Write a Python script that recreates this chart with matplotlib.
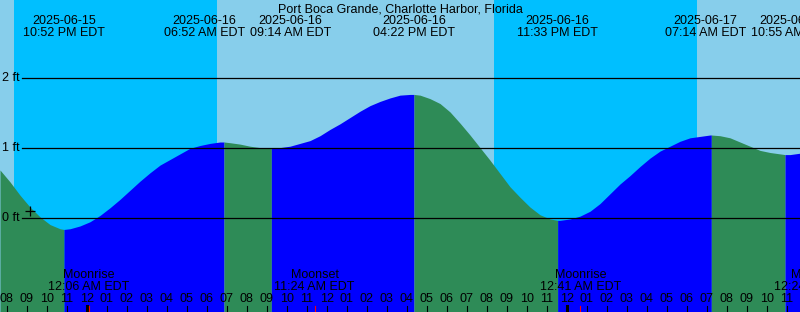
import matplotlib.pyplot as plt
import numpy as np
import pandas as pd

plt.rcParams['font.family'] = ['Liberation Sans', 'DejaVu Sans']

station = 'Port Boca Grande, Charlotte Harbor, Florida'

# hauteur de la marée (ft), relevée toutes les 30 min à partir de 19:40
sample_start = '2025-06-15 19:40'
sample_heights = [0.69, 0.52, 0.33, 0.16, 0.02, -0.09, -0.15, -0.15, -0.11, -0.05,
                  0.04, 0.15, 0.27, 0.40, 0.53, 0.65, 0.76, 0.84, 0.92, 1.00,
                  1.04, 1.07, 1.09, 1.08, 1.06, 1.03, 1.01, 1.00, 1.01, 1.03,
                  1.07, 1.11, 1.18, 1.27, 1.35, 1.44, 1.53, 1.61, 1.67, 1.72,
                  1.76, 1.77, 1.76, 1.71, 1.64, 1.52, 1.36, 1.19, 1.01, 0.83,
                  0.64, 0.45, 0.30, 0.16, 0.05, -0.01, -0.03, -0.01, 0.03, 0.10,
                  0.21, 0.35, 0.49, 0.61, 0.74, 0.86, 0.96, 1.03, 1.10, 1.15,
                  1.17, 1.19, 1.18, 1.15, 1.09, 1.03, 0.97, 0.94, 0.92, 0.91,
                  0.93]

# pleines et basses mers
event_times = ['2025-06-15 22:52', '2025-06-16 06:52', '2025-06-16 09:14',
               '2025-06-16 16:22', '2025-06-16 23:33', '2025-06-17 07:14',
               '2025-06-17 10:55']
event_heights = [-0.16, 1.09, 1.00, 1.77, -0.03, 1.19, 0.91]

# soleil
sunsets = ['2025-06-15 20:22', '2025-06-16 20:22']
sunrises = ['2025-06-16 06:31', '2025-06-17 06:31']

# lune
moon_times = ['2025-06-16 00:06', '2025-06-16 11:24', '2025-06-17 00:41', '2025-06-17 12:24']
moon_names = ['Moonrise', 'Moonset', 'Moonrise', 'Moonset']

# repère "+"
mark_time = '2025-06-15 21:10'
mark_height = 0.11

level_ticks = [0, 1, 2]

view_start = '2025-06-15 19:40'
view_end = '2025-06-17 11:40'
t0 = pd.Timestamp('2025-06-15 20:00')


def hours(s):
    return np.asarray((pd.to_datetime(s) - t0) / pd.Timedelta(hours=1), dtype=float)


day_color = '#87CEEB'
night_color = '#00BFFF'
flood_color = '#0000FF'
ebb_color = '#2E8B57'
H = 312.0  # hauteur en pixels

fig = plt.figure(figsize=(8, 3.12), dpi=100, facecolor=day_color)
ax = fig.add_axes([0, 0, 1, 1])
ax.set_axis_off()
x0, x1 = hours(view_start), hours(view_end)
ax.set_xlim(x0, x1)
ymin, ymax = -1.34, 3.12
ax.set_ylim(ymin, ymax)

# nuit
for s, r in zip(sunsets, sunrises):
    ax.axvspan(hours(s), hours(r), color=night_color, lw=0, zorder=0)

# courbe complète
st = hours(pd.date_range(sample_start, periods=len(sample_heights), freq='30min'))
et = hours(event_times)
t = np.concatenate([st, et])
h = np.concatenate([sample_heights, event_heights])
order = np.argsort(t)
t, h = t[order], h[order]

bounds = [t[0]] + list(et) + [t[-1]]
for a, b in zip(bounds[:-1], bounds[1:]):
    m = (t >= a) & (t <= b)
    col = flood_color if h[m][-1] > h[m][0] else ebb_color
    ax.fill_between(t[m], h[m], ymin, color=col, lw=0, zorder=1)

# niveaux
for lv in level_ticks:
    ax.plot([x0 + (x1 - x0) * 22 / 800, x1], [lv, lv], color='black', lw=0.9, zorder=2)
    ax.text(0.025, lv, '%d ft' % lv, transform=ax.get_yaxis_transform(),
            ha='right', va='center', fontsize=9)

# repère
ax.plot(hours(mark_time), mark_height, marker='+', color='black', markersize=7, mew=0.9, zorder=3)

# titre
ax.text(0.5, 1 - 12 / H, station, transform=ax.transAxes, ha='center', va='baseline', fontsize=9)

# étiquettes des marées, écartées quand elles se chevauchent
label_w = 4.3
pos = list(et)
for i in range(len(pos) - 1):
    gap = pos[i + 1] - pos[i]
    if gap < label_w:
        pos[i] -= (label_w - gap) / 2
        pos[i + 1] += (label_w - gap) / 2
for p, s in zip(pos, pd.to_datetime(event_times)):
    ax.text(p, 1 - 24 / H, s.strftime('%Y-%m-%d'), transform=ax.get_xaxis_transform(),
            ha='center', va='baseline', fontsize=9)
    ax.text(p, 1 - 36 / H, s.strftime('%I:%M %p EDT'), transform=ax.get_xaxis_transform(),
            ha='center', va='baseline', fontsize=9)

# lune
mt = hours(moon_times)
for p, s, name in zip(mt, pd.to_datetime(moon_times), moon_names):
    ax.text(p, 1 - 278.5 / H, name, transform=ax.get_xaxis_transform(),
            ha='center', va='baseline', fontsize=9)
    ax.text(p, 1 - 290 / H, s.strftime('%I:%M %p EDT'), transform=ax.get_xaxis_transform(),
            ha='center', va='baseline', fontsize=9)

# graduations horaires
hrs = pd.date_range('2025-06-15 20:00', '2025-06-17 11:00', freq='h')
ht = hours(hrs)
tr = ax.get_xaxis_transform()
for p, s in zip(ht, hrs):
    ax.text(p, 1 - 301.7 / H, s.strftime('%I'), transform=tr, ha='center', va='baseline', fontsize=9)
    lw = 2.2 if s.hour == 0 else 0.8
    ax.plot([p, p], [0, 6 / H], transform=tr, color='black', lw=lw, zorder=4)
for p in mt:
    ax.plot([p, p], [0, 6 / H], transform=tr, color='red', lw=0.8, zorder=5)

plt.savefig('out.png', dpi=100, facecolor=fig.get_facecolor())
